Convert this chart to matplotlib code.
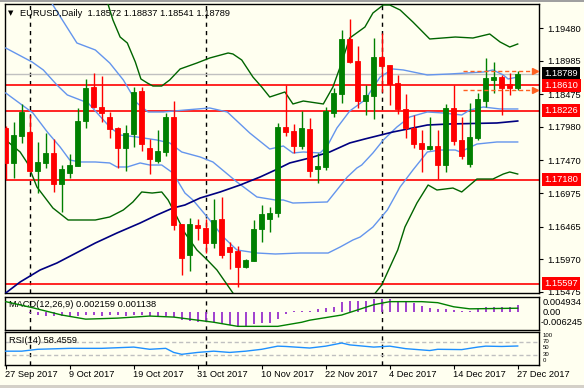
import matplotlib
matplotlib.use("Agg")
import matplotlib.pyplot as plt
import matplotlib.transforms as mtransforms
import numpy as np

plt.rcParams['font.family'] = ['Liberation Sans', 'DejaVu Sans']

# ---------------------------------------------------------------
# Data (EURUSD daily, 27 Sep - 27 Dec 2017)
# ---------------------------------------------------------------
opens = [1.17964, 1.17432, 1.17842, 1.17903, 1.17310, 1.17432, 1.17584, 1.17112, 1.17280, 1.17386,
         1.18070, 1.18587, 1.18283, 1.18131, 1.17964, 1.17660, 1.17873, 1.18526, 1.17660, 1.17462,
         1.17599, 1.18131, 1.16504, 1.16033, 1.16489, 1.16443, 1.16215, 1.16580, 1.16154, 1.16094,
         1.15850, 1.15942, 1.16428, 1.16580, 1.16671, 1.17979, 1.17918, 1.17690, 1.17949, 1.17340,
         1.17371, 1.18192, 1.18481, 1.19317, 1.18983, 1.18374, 1.18450, 1.19043, 1.18922, 1.18648,
         1.18253, 1.17964, 1.17736, 1.17645, 1.17690, 1.17401, 1.18268, 1.17781, 1.17416, 1.17812,
         1.18374, 1.18694, 1.18739, 1.18633, 1.18572]
highs = [1.17994, 1.18055, 1.18329, 1.18161, 1.17751, 1.17888, 1.17797, 1.17401, 1.17568, 1.18268,
         1.18709, 1.18800, 1.18754, 1.18207, 1.17980, 1.18009, 1.18587, 1.18587, 1.17797, 1.17933,
         1.18192, 1.18374, 1.16504, 1.16595, 1.16580, 1.16580, 1.16884, 1.16915, 1.16230, 1.16170,
         1.15972, 1.16565, 1.16793, 1.16763, 1.18040, 1.18618, 1.18025, 1.18222, 1.18116, 1.17584,
         1.18283, 1.18572, 1.19454, 1.19621, 1.19211, 1.18618, 1.19332, 1.19408, 1.18922, 1.18770,
         1.18481, 1.18161, 1.17933, 1.18131, 1.17933, 1.18329, 1.18618, 1.18131, 1.18344, 1.18496,
         1.19028, 1.18967, 1.18770, 1.18800, 1.18837]
lows = [1.17188, 1.17204, 1.17736, 1.17295, 1.16975, 1.17356, 1.16991, 1.16687, 1.17204, 1.17386,
        1.17964, 1.18268, 1.18055, 1.17812, 1.17356, 1.17310, 1.17675, 1.17614, 1.17264, 1.17432,
        1.17538, 1.16413, 1.15729, 1.15789, 1.16261, 1.16063, 1.16139, 1.15987, 1.15820, 1.15546,
        1.15835, 1.15942, 1.16230, 1.16382, 1.16611, 1.17842, 1.17584, 1.17645, 1.17219, 1.17128,
        1.17325, 1.18131, 1.18344, 1.18952, 1.18268, 1.18161, 1.18101, 1.18511, 1.18314, 1.18177,
        1.17812, 1.17660, 1.17295, 1.17629, 1.17188, 1.17295, 1.17705, 1.17492, 1.17371, 1.17781,
        1.18283, 1.18496, 1.18161, 1.18466, 1.18541]
closes = [1.17432, 1.17857, 1.18207, 1.17310, 1.17447, 1.17584, 1.17112, 1.17340, 1.17401, 1.18070,
          1.18572, 1.18283, 1.18192, 1.17949, 1.17660, 1.17888, 1.18511, 1.17721, 1.17492, 1.17614,
          1.18131, 1.16489, 1.15987, 1.16504, 1.16443, 1.16215, 1.16565, 1.16033, 1.16078, 1.15850,
          1.15957, 1.16428, 1.16656, 1.16671, 1.17979, 1.17903, 1.17690, 1.17964, 1.17310, 1.17386,
          1.18222, 1.18496, 1.19317, 1.18967, 1.18374, 1.18466, 1.19043, 1.18907, 1.18633, 1.18253,
          1.17964, 1.17721, 1.17645, 1.17690, 1.17401, 1.18268, 1.17766, 1.17538, 1.17827, 1.18405,
          1.18724, 1.18739, 1.18572, 1.18572, 1.18789]

# Bollinger(2.0) - green outer bands, read at bar positions
bb2_up_x = [12.0, 12.7, 13.4, 14.3, 15.2, 16.2, 16.9, 17.7, 18.4, 19.5, 20.5, 21.8, 23.9, 25.5, 27.8,
            28.4, 29.5, 30.9, 32.0, 33.0, 34.9, 35.9, 37.2, 39.7, 40.9, 41.8, 43.0, 44.9, 45.9, 47.2,
            48.0, 49.3, 50.9, 53.0, 56.2, 58.4, 60.5, 61.8, 63.0, 64.0]
bb2_up_y = [1.20000, 1.19880, 1.19606, 1.19347, 1.19256, 1.18967, 1.18709, 1.18648, 1.18602, 1.18602,
            1.18694, 1.18861, 1.18952, 1.19028, 1.19104, 1.19089, 1.18998, 1.18739, 1.18587, 1.18435,
            1.18511, 1.18329, 1.18374, 1.18329, 1.18587, 1.18891, 1.19332, 1.19499, 1.19712, 1.19834,
            1.19834, 1.19758, 1.19575, 1.19317, 1.19347, 1.19332, 1.19393, 1.19271, 1.19195, 1.19241]
bb2_lo_x = [0.0, 1.8, 2.7, 3.9, 5.9, 7.8, 11.2, 13.0, 14.7, 15.9, 17.0, 18.3, 19.5, 20.3, 21.4,
            22.4, 23.9, 25.2, 26.4, 28.4, 30.5, 44.3, 46.2, 47.0, 49.0, 49.9, 51.4, 52.8, 53.9, 55.9,
            57.0, 58.9, 60.9, 62.2, 63.0, 64.0]
bb2_lo_y = [1.17781, 1.17599, 1.17432, 1.17067, 1.16747, 1.16565, 1.16565, 1.16611, 1.16717, 1.16839,
            1.16991, 1.16975, 1.16991, 1.16869, 1.16611, 1.16367, 1.16109, 1.15957, 1.15805, 1.15455,
            1.15044, 1.15044, 1.15455, 1.15577, 1.16109, 1.16458, 1.16823, 1.17097, 1.17021, 1.17051,
            1.16991, 1.17188, 1.17188, 1.17264, 1.17295, 1.17264]

# Bollinger(1.0) - light blue bands with middle line
bb1_up_x = [4.3, 5.5, 8.9, 11.2, 13.0, 14.7, 16.4, 17.8, 19.7, 22.4, 25.5, 27.7, 30.5, 33.0, 34.7,
            35.9, 37.2, 39.3, 40.2, 41.4, 43.0, 44.9, 46.8, 48.4, 49.7, 52.7, 55.5, 59.7, 60.9, 62.2,
            62.8, 64.0]
bb1_up_y = [1.20138, 1.19910, 1.19256, 1.19150, 1.18952, 1.18694, 1.18344, 1.18207, 1.18207, 1.18237,
            1.18268, 1.18207, 1.17888, 1.17644, 1.17690, 1.17584, 1.17599, 1.17584, 1.17690, 1.17964,
            1.18222, 1.18390, 1.18739, 1.18861, 1.18846, 1.18770, 1.18785, 1.18815, 1.18846, 1.18770,
            1.18709, 1.18739]
bb1_mid_x = [0.0, 3.3, 4.7, 6.4, 7.7, 10.3, 13.0, 14.3, 16.4, 18.9, 20.5, 22.0, 24.3, 25.9, 28.9,
             31.4, 33.7, 34.7, 35.9, 40.2, 41.4, 42.7, 43.9, 44.5, 45.9, 47.2, 48.9, 50.5, 52.7, 54.7,
             57.0, 58.0, 59.7, 61.8, 64.0]
bb1_mid_y = [1.19180, 1.18967, 1.18846, 1.18618, 1.18466, 1.18344, 1.17979, 1.17857, 1.17827, 1.17781,
             1.17736, 1.17599, 1.17523, 1.17447, 1.17143, 1.16915, 1.16869, 1.16869, 1.16823, 1.16839,
             1.17021, 1.17219, 1.17356, 1.17401, 1.17584, 1.17781, 1.17979, 1.18131, 1.18207, 1.18192,
             1.18161, 1.18237, 1.18283, 1.18253, 1.18253]
bb1_lo_x = [0.0, 3.4, 5.2, 6.8, 8.0, 9.3, 11.2, 13.0, 13.9, 15.2, 16.8, 18.0, 19.5, 20.9, 22.4,
            23.4, 25.5, 27.2, 28.9, 31.4, 33.7, 36.8, 40.3, 41.8, 43.4, 44.3, 45.9, 47.7, 49.3, 50.9,
            52.7, 54.3, 56.2, 56.8, 58.9, 61.4, 64.0]
bb1_lo_y = [1.18496, 1.18192, 1.17903, 1.17675, 1.17477, 1.17447, 1.17447, 1.17432, 1.17371, 1.17371,
            1.17432, 1.17401, 1.17401, 1.17280, 1.16975, 1.16869, 1.16565, 1.16306, 1.16109, 1.16063,
            1.16048, 1.16063, 1.16063, 1.16154, 1.16261, 1.16306, 1.16458, 1.16717, 1.17067, 1.17325,
            1.17599, 1.17629, 1.17629, 1.17599, 1.17720, 1.17751, 1.17751]

# slow moving average (navy)
ma_x = [0.0, 1.8, 4.3, 6.4, 11.2, 13.9, 16.8, 18.9, 20.9, 22.4, 24.3, 26.8, 29.3, 31.8, 33.7,
        35.5, 38.0, 40.5, 43.0, 44.9, 48.4, 52.7, 55.5, 61.4, 64.0]
ma_y = [1.15455, 1.15622, 1.15805, 1.15911, 1.16215, 1.16367, 1.16519, 1.16641, 1.16747, 1.16793,
        1.16899, 1.16991, 1.17097, 1.17219, 1.17325, 1.17432, 1.17508, 1.17599, 1.17736, 1.17797,
        1.17903, 1.18009, 1.18025, 1.18040, 1.18070]

levels_red = [1.18610, 1.18226, 1.17180, 1.15597]
last_price = 1.18789
day_high, day_low = 1.18837, 1.18541

price_ticks = [1.19480, 1.18985, 1.18475, 1.17980, 1.17470, 1.16975, 1.16465, 1.15970, 1.15475]

# MACD(12,26,9): histogram = main, line = signal
macd_main = [-0.0002, -0.0002, -0.0002, -0.0006, -0.0012, -0.0015, -0.0016, -0.0016, -0.0016, -0.0015,
             -0.0013, -0.0013, -0.0014, -0.0013, -0.0013, -0.0015, -0.0010, -0.0013, -0.0015, -0.0015,
             -0.0014, -0.0020, -0.0028, -0.0032, -0.0035, -0.0037, -0.0035, -0.0043, -0.0046, -0.0051,
             -0.0051, -0.0043, -0.0040, -0.0040, -0.0026, -0.0009, 0.0003, 0.0002, 0.0001, 0.0008,
             0.0012, 0.0017, 0.0031, 0.0037, 0.0037, 0.0037, 0.0041, 0.0043, 0.0043, 0.0037,
             0.0034, 0.0028, 0.0018, 0.0011, 0.0008, 0.0008, 0.0005, 0.0002, 0.0002, 0.0010,
             0.0014, 0.0014, 0.0014, 0.0014, 0.002159]
signal_x = [0, 3.4, 7, 10, 14, 18, 21, 24, 26, 29, 34, 37, 38, 42, 44, 46, 48, 52, 54, 56, 58, 64]
signal_y = [0.00336, 0.00127, -0.00117, -0.00257, -0.00222, -0.00152, -0.00187, -0.00292, -0.00362,
            -0.00501, -0.00501, -0.00362, -0.00292, -0.00117, 0.00057, 0.00232, 0.00336, 0.00336,
            0.00301, 0.00162, 0.00092, 0.001138]
macd_max, macd_min = 0.004934, -0.006245

# RSI(14)
rsi_x = [0, 2, 4, 8, 12, 16, 18, 20, 21, 22, 24, 26, 28, 30, 32, 34, 35, 38, 40, 42, 43, 46, 48,
         50, 53, 54, 57, 59, 60, 62, 64]
rsi_y = [42, 42, 48, 51, 51, 55, 48, 51, 38, 32, 38, 42, 38, 42, 48, 58, 57, 52, 58, 68, 62, 55, 58,
         50, 44, 48, 47, 55, 58, 57, 58.4559]
rsi_levels = ['100', '70', '50', '30', '0']

date_pos = [0, 8, 16, 24, 32, 40, 48, 56, 64]
date_labels = ['27 Sep 2017', '9 Oct 2017', '19 Oct 2017', '31 Oct 2017', '10 Nov 2017',
               '22 Nov 2017', '4 Dec 2017', '14 Dec 2017', '27 Dec 2017']
month_breaks = [3, 25, 47]

# ---------------------------------------------------------------
# Styling
# ---------------------------------------------------------------
BG = '#FFFFF0'
GREEN = '#008000'
RED = '#FF0000'
FS = 6.7

W, H = 584.0, 388.0
fig = plt.figure(figsize=(W / 100, H / 100), dpi=100, facecolor=BG)


def box(left, top, right, bottom):
    return [left / W, 1 - bottom / H, (right - left) / W, (bottom - top) / H]


ax = fig.add_axes(box(5, 4, 539, 293), facecolor=BG)
ax_macd = fig.add_axes(box(5, 297, 539, 330), facecolor=BG)
ax_rsi = fig.add_axes(box(5, 332, 539, 365), facecolor=BG)

for a in (ax, ax_macd, ax_rsi):
    a.set_xlim(-0.09, 66.66)
    for s in a.spines.values():
        s.set_color('black')
        s.set_linewidth(1)
    a.set_xticks([])
    a.set_yticks([])
    for m in month_breaks:
        a.axvline(m, color='black', lw=1, ls=(0, (3, 3)), zorder=1)

# ---- main price panel ----
ax.set_ylim(1.15455, 1.19849)

for lv in levels_red:
    ax.axhline(lv, color=RED, lw=1.2, zorder=2)
ax.axhline(last_price, color='#C0C0C0', lw=1, zorder=2)

ax.plot(bb2_up_x, bb2_up_y, color='#006400', lw=1, zorder=3)
ax.plot(bb2_lo_x, bb2_lo_y, color='#006400', lw=1, zorder=3)
ax.plot(bb1_up_x, bb1_up_y, color='#6495ED', lw=1, zorder=3)
ax.plot(bb1_mid_x, bb1_mid_y, color='#6495ED', lw=1, zorder=3)
ax.plot(bb1_lo_x, bb1_lo_y, color='#6495ED', lw=1, zorder=3)
ax.plot(ma_x, ma_y, color='#000080', lw=1.2, zorder=3)

x = np.arange(len(opens))
o, hi, lo, c = (np.array(v) for v in (opens, highs, lows, closes))
col = np.where(c >= o, GREEN, RED)
ax.vlines(x, lo, hi, colors=col, lw=1, zorder=4)
ax.bar(x, np.abs(c - o), 0.6, bottom=np.minimum(o, c), color=col, edgecolor=col,
       linewidth=0.6, zorder=5)

# high / low markers of the current bar
for p in (day_high, day_low):
    ax.plot([57.2, 65.8], [p, p], color='#FF6020', lw=1, ls=(0, (3, 2)), zorder=6)
    ax.plot([66.1], [p], marker='>', color='#FF6020', ms=4, zorder=6, clip_on=False)

ax.yaxis.tick_right()
ax.set_yticks(price_ticks)
ax.set_yticklabels(['%.5f' % v for v in price_ticks])
ax.tick_params(axis='y', direction='out', length=3, width=0.8, labelsize=FS, pad=3)

ytr = mtransforms.blended_transform_factory(ax.transAxes, ax.transData)
ax.text(1.0105, last_price, '%.5f' % last_price, transform=ytr, color='white', fontsize=FS,
        va='center', ha='left', bbox=dict(facecolor='black', edgecolor='none', pad=1.6),
        clip_on=False, zorder=10)
for lv in levels_red:
    ax.text(1.0105, lv, '%.5f' % lv, transform=ytr, color='white', fontsize=FS,
            va='center', ha='left', bbox=dict(facecolor=RED, edgecolor='none', pad=1.6),
            clip_on=False, zorder=10)

fig.text(8 / W, 1 - 13 / H, '\u25bc', fontsize=5, va='center', ha='left',
         family=['DejaVu Sans'])
fig.text(20 / W, 1 - 13 / H, 'EURUSD,Daily  %.5f %.5f %.5f %.5f' % (
    opens[-1], highs[-1], lows[-1], closes[-1]), fontsize=FS, va='center', ha='left')

# ---- MACD panel ----
ax_macd.set_ylim(macd_min, macd_max)
ax_macd.vlines(x, 0, macd_main, color='#9932CC', lw=1.3, zorder=3)
ax_macd.plot(signal_x, signal_y, color=GREEN, lw=1, zorder=4)
ax_macd.text(0.008, 0.76, 'MACD(12,26,9) %.6f %.6f' % (macd_main[-1], signal_y[-1]),
             transform=ax_macd.transAxes, fontsize=FS, va='center', ha='left')
for yy, t, xx in [(0.82, '%.6f' % macd_max, 1.0075), (0.53, '0.00', 1.0075),
                  (0.22, '%.6f' % macd_min, 1.0037)]:
    ax_macd.text(xx, yy, t, transform=ax_macd.transAxes, fontsize=FS, va='center',
                 ha='left', clip_on=False)

# ---- RSI panel ----
ax_rsi.set_ylim(-2, 103)
for lv in (70, 30):
    ax_rsi.axhline(lv, color='#C0C0C0', lw=1, ls=(0, (3, 2)), zorder=2)
ax_rsi.plot(rsi_x, rsi_y, color='#1E90FF', lw=1, zorder=3)
ax_rsi.text(0.008, 0.73, 'RSI(14) %.4f' % rsi_y[-1], transform=ax_rsi.transAxes,
            fontsize=FS, va='center', ha='left')
# the scale labels are crowded in a 33 px panel: small font, evenly stacked
for yy, t in zip([0.90, 0.71, 0.52, 0.33, 0.14], rsi_levels):
    ax_rsi.text(1.0075, yy, t, transform=ax_rsi.transAxes, fontsize=4.3, va='center',
                ha='left', clip_on=False)

ax_rsi.set_xticks(date_pos)
ax_rsi.set_xticklabels([])
ax_rsi.tick_params(axis='x', direction='out', length=3, width=0.8)
dtr = mtransforms.blended_transform_factory(ax_rsi.transData, ax_rsi.transAxes)
for p, t in zip(date_pos, date_labels):
    ax_rsi.text(p - 0.15, -0.30, t, transform=dtr, fontsize=FS, va='center', ha='left',
                clip_on=False)

# window frame strips
fig.patches.append(plt.Rectangle((0, 1 - 2 / H), 1, 2 / H, transform=fig.transFigure,
                                 facecolor='#A0A0A0', edgecolor='none'))
fig.patches.append(plt.Rectangle((0, 0), 1, 3 / H, transform=fig.transFigure,
                                 facecolor='#D4D0C8', edgecolor='none'))

fig.savefig('out.png', dpi=100, facecolor=BG)
